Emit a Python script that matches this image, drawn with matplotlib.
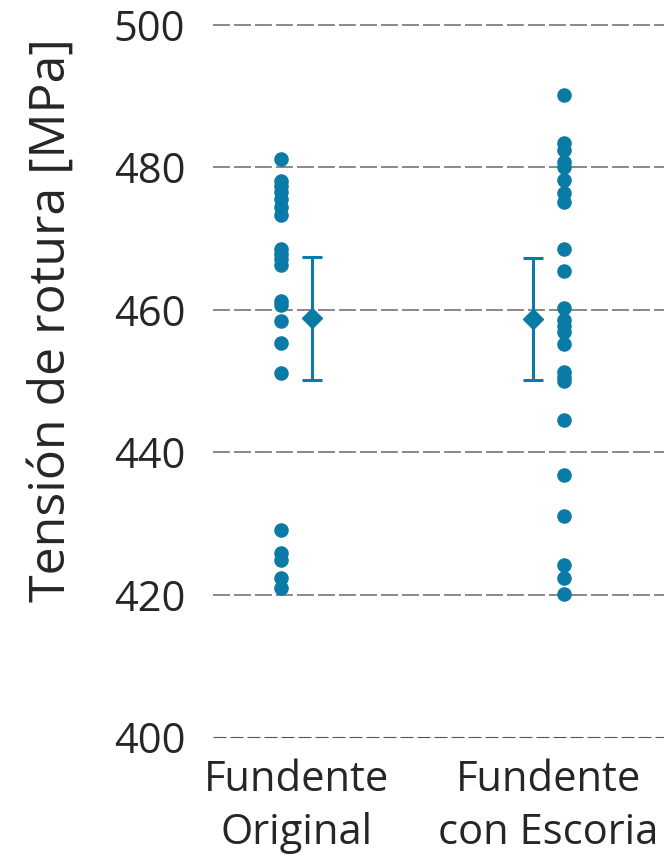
import numpy as np
import matplotlib
matplotlib.use("Agg")
import matplotlib.pyplot as plt

# ---- data ----
categories = ["Fundente\nOriginal", "Fundente\ncon Escoria"]

original = [481.2, 478.1, 477.4, 476.5, 475.6, 474.4, 473.3,
            468.5, 467.8, 467.1, 466.3, 461.2, 460.7, 458.4,
            455.3, 451.1, 429.1, 425.8, 424.9, 422.3, 420.9]
escoria = [490.2, 483.4, 482.4, 480.8, 480.1, 478.2, 476.4, 475.1,
           468.6, 465.4, 460.3, 458.6, 457.7, 456.9, 455.2,
           451.3, 450.6, 450.0, 444.5, 436.8, 431.0, 424.2,
           422.3, 420.1]
means = [458.8, 458.7]
errs = [8.6, 8.6]

yticks = [400, 420, 440, 460, 480, 500]

COLOR = "#0a7aa6"
TEXT = "#262626"
plt.rcParams["font.family"] = ["Open Sans", "DejaVu Sans"]

fig = plt.figure(figsize=(6.64, 8.6), dpi=100)
ax = fig.add_axes([213 / 664, 1 - 737 / 860, 504 / 664, 712 / 860])

off = 0.0615
groups = [original, escoria]
# points on the outer side, mean +- error on the inner side
pt_side = [-1, 1]
for i, vals in enumerate(groups):
    xp = i + pt_side[i] * off
    ax.scatter([xp] * len(vals), vals, s=110, color=COLOR, zorder=4,
               linewidths=0)
    xm = i - pt_side[i] * off
    ax.errorbar(xm, means[i], yerr=errs[i], fmt="D", color=COLOR,
                markersize=10, elinewidth=2.2, capsize=7, capthick=2.2,
                zorder=5)

ax.set_xlim(-0.33, 1.67)
ax.set_ylim(400, 500)
ax.set_yticks(yticks)
ax.set_xticks([0, 1])
ax.set_xticklabels(categories, fontsize=30, linespacing=1.35, color=TEXT)
ax.tick_params(axis="y", labelsize=30, labelcolor=TEXT, length=0, pad=20)
ax.tick_params(axis="x", length=0, pad=16)

for y in yticks[1:]:
    ax.axhline(y, color="#888888", linewidth=1.4, linestyle=(0, (8.7, 2.1)),
               zorder=1, clip_on=False)
ax.axhline(400, color="#555555", linewidth=0.8, linestyle=(0, (11.7, 3.6)),
           zorder=1, clip_on=False)

for s in ax.spines.values():
    s.set_visible(False)

ax.set_ylabel("Tensión de rotura [MPa]", fontsize=36, color=TEXT)
ax.yaxis.set_label_coords(-0.27, 0.586)

fig.savefig("out.png", dpi=100)
